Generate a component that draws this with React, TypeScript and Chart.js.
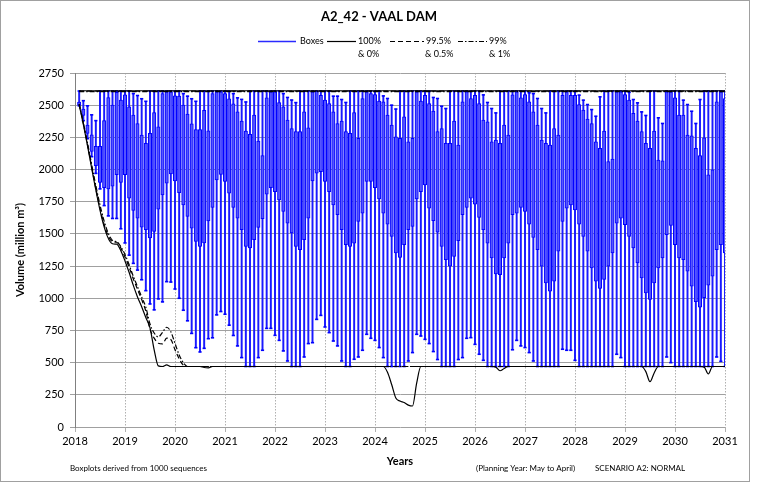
import React, { useEffect, useRef } from 'react';
import { Chart, registerables } from 'chart.js';

Chart.register(...registerables);

const TITLE = 'A2_42 - VAAL DAM';
const Y_TITLE = 'Volume (million m³)';
const X_TITLE = 'Years';
const NOTE_LEFT = 'Boxplots derived from 1000 sequences';
const NOTE_MID = '(Planning Year: May to April)';
const NOTE_RIGHT = 'SCENARIO A2: NORMAL';

const START_YEAR = 2018;
const END_YEAR = 2031;
const Y_MAX = 2750;
const Y_STEP = 250;

// Monthly boxplot statistics, May 2018 .. April 2031 (156 months)
const LOW_WHISKER = [
  2495, 2380, 2240, 2100, 1970, 1850, 1720, 1640, 1620, 1620, 1540, 1430,
  1335, 1271, 1219, 1144, 1059, 956, 910, 995, 972, 1129, 1126, 1072,
  1000, 907, 825, 727, 616, 583, 611, 686, 693, 871, 897, 876,
  791, 711, 630, 539, 470, 470, 470, 539, 596, 766, 766, 712,
  673, 591, 513, 470, 470, 470, 544, 648, 655, 836, 867, 777,
  733, 668, 630, 513, 470, 470, 526, 544, 596, 720, 689, 673,
  617, 539, 470, 470, 470, 470, 470, 513, 578, 720, 707, 681,
  648, 586, 524, 470, 470, 470, 470, 524, 539, 689, 694, 642,
  565, 518, 470, 470, 470, 470, 470, 470, 600, 673, 630, 617,
  578, 513, 470, 470, 470, 470, 470, 470, 604, 596, 596, 518,
  470, 470, 470, 470, 470, 470, 470, 470, 470, 565, 539, 470,
  470, 470, 470, 470, 470, 470, 470, 470, 470, 544, 500, 470,
  470, 470, 470, 470, 470, 470, 470, 470, 470, 544, 510, 470,
];

const BOX_LOW = [
  2502, 2420, 2280, 2140, 2030, 1900, 1860, 1850, 1870, 1960, 1900, 1960,
  1778, 1682, 1623, 1553, 1532, 1468, 1520, 1692, 1803, 1894, 1966, 1912,
  1821, 1726, 1636, 1545, 1442, 1403, 1430, 1600, 1705, 1920, 1963, 1907,
  1816, 1705, 1623, 1532, 1403, 1391, 1455, 1551, 1618, 1809, 1860, 1829,
  1765, 1674, 1584, 1507, 1403, 1378, 1455, 1623, 1912, 1971, 1984, 1907,
  1829, 1726, 1649, 1532, 1416, 1403, 1429, 1597, 1662, 1907, 1907, 1860,
  1772, 1662, 1576, 1481, 1352, 1318, 1416, 1532, 1558, 1772, 1829, 1881,
  1700, 1602, 1514, 1403, 1300, 1249, 1326, 1447, 1649, 1705, 1778, 1731,
  1628, 1532, 1429, 1313, 1189, 1184, 1313, 1429, 1649, 1662, 1705, 1674,
  1576, 1473, 1378, 1249, 1120, 1055, 1133, 1365, 1597, 1700, 1726, 1687,
  1576, 1481, 1365, 1236, 1133, 1076, 1146, 1249, 1352, 1584, 1623, 1571,
  1481, 1391, 1275, 1158, 1042, 991, 1120, 1236, 1313, 1494, 1566, 1416,
  1313, 1300, 1210, 1094, 973, 931, 1004, 1102, 1171, 1378, 1416, 1352,
];

const BOX_HIGH = [
  2525, 2470, 2345, 2270, 2180, 2180, 2380, 2560, 2500, 2600, 2540, 2580,
  2487, 2423, 2358, 2268, 2203, 2281, 2443, 2332, 2590, 2603, 2603, 2572,
  2570, 2500, 2430, 2355, 2310, 2310, 2460, 2300, 2590, 2603, 2603, 2590,
  2550, 2510, 2448, 2376, 2299, 2273, 2423, 2221, 2108, 2557, 2603, 2603,
  2521, 2487, 2384, 2319, 2294, 2294, 2448, 2325, 2603, 2608, 2577, 2539,
  2513, 2448, 2358, 2376, 2294, 2281, 2443, 2242, 2552, 2603, 2590, 2583,
  2531, 2526, 2423, 2345, 2255, 2242, 2410, 2216, 2242, 2603, 2531, 2577,
  2513, 2454, 2294, 2319, 2203, 2203, 2376, 2190, 2526, 2603, 2552, 2577,
  2513, 2384, 2371, 2216, 2229, 2203, 2345, 2268, 2580, 2603, 2557, 2583,
  2526, 2448, 2345, 2229, 2203, 2190, 2319, 2268, 2577, 2603, 2577, 2577,
  2505, 2461, 2392, 2358, 2216, 2165, 2299, 2061, 2082, 2603, 2603, 2583,
  2539, 2436, 2376, 2294, 2203, 2165, 2299, 2074, 2067, 2603, 2603, 2557,
  2423, 2423, 2268, 2262, 2165, 2108, 2247, 1958, 1997, 2526, 2603, 2552,
];

const HIGH_WHISKER = [
  2610, 2535, 2495, 2425, 2380, 2610, 2610, 2610, 2610, 2610, 2610, 2610,
  2610, 2590, 2575, 2550, 2530, 2610, 2610, 2610, 2610, 2610, 2610, 2610,
  2610, 2590, 2570, 2550, 2530, 2610, 2610, 2610, 2610, 2610, 2610, 2610,
  2610, 2590, 2557, 2545, 2525, 2610, 2610, 2610, 2610, 2610, 2610, 2610,
  2610, 2590, 2560, 2540, 2520, 2610, 2610, 2610, 2610, 2610, 2610, 2610,
  2610, 2570, 2570, 2544, 2521, 2610, 2610, 2610, 2610, 2610, 2610, 2610,
  2610, 2572, 2552, 2500, 2470, 2610, 2610, 2610, 2610, 2610, 2610, 2610,
  2610, 2560, 2552, 2492, 2474, 2610, 2610, 2610, 2610, 2610, 2610, 2610,
  2610, 2580, 2521, 2474, 2440, 2610, 2610, 2610, 2610, 2610, 2610, 2610,
  2596, 2590, 2552, 2474, 2440, 2610, 2610, 2610, 2610, 2610, 2610, 2610,
  2578, 2539, 2505, 2466, 2414, 2565, 2610, 2610, 2610, 2610, 2610, 2610,
  2600, 2544, 2518, 2448, 2420, 2610, 2610, 2402, 2358, 2610, 2610, 2610,
  2610, 2539, 2505, 2453, 2358, 2544, 2610, 2610, 2610, 2610, 2610, 2610,
];

// Percentile envelope lines: [month index, volume]
const P100_MONTH = [0, 155];
const P100_VALUE = [2612, 2612];
const P995_MONTH = [0, 155];
const P995_VALUE = [2609, 2609];
const P99_MONTH = [0, 155];
const P99_VALUE = [2606, 2606];

const P0_MONTH = [0, 8, 9, 10, 11, 12, 13, 14, 15, 16, 17, 18, 19, 20, 21, 22, 29, 30, 31, 32, 73, 74, 75, 76, 77, 78, 79, 80, 81, 82, 99, 100, 101, 102, 103, 135, 136, 137, 138, 139, 149, 150, 151, 152, 155];
const P0_VALUE = [2500, 1424, 1420, 1370, 1290, 1200, 1100, 1010, 934, 850, 770, 600, 475, 470, 482, 470, 470, 462, 460, 470, 470, 425, 330, 225, 202, 190, 170, 163, 340, 470, 470, 465, 437, 455, 470, 470, 430, 352, 420, 470, 470, 465, 412, 470, 470];

const P05_MONTH = [0, 8, 9, 10, 11, 12, 13, 14, 15, 16, 17, 18, 19, 20, 21, 22, 23, 24, 25, 26, 155];
const P05_VALUE = [2505, 1440, 1435, 1390, 1320, 1240, 1150, 1070, 990, 900, 760, 690, 650, 645, 690, 680, 600, 530, 480, 470, 470];

const P1_MONTH = [0, 8, 9, 10, 11, 12, 13, 14, 15, 16, 17, 18, 19, 20, 21, 22, 23, 24, 25, 26, 155];
const P1_VALUE = [2510, 1450, 1440, 1400, 1340, 1260, 1170, 1090, 1010, 930, 800, 730, 700, 735, 775, 740, 650, 560, 500, 470, 470];

const monthX = (i: number) => START_YEAR + (i + 1) / 12;

const FONT = 'Lato, "Open Sans", "DejaVu Sans", sans-serif';

const decorPlugin = {
  id: 'decor',
  afterDraw(chart: any) {
    const ctx = chart.ctx as CanvasRenderingContext2D;
    ctx.save();
    // outer frame
    ctx.strokeStyle = '#a0a0a0';
    ctx.lineWidth = 1;
    ctx.strokeRect(0.5, 0.5, 749, 481);

    // title
    ctx.fillStyle = '#000';
    ctx.textAlign = 'center';
    ctx.textBaseline = 'middle';
    ctx.font = `bold 13px ${FONT}`;
    ctx.fillText(TITLE, 379, 17);

    // legend
    ctx.font = `9px ${FONT}`;
    ctx.textAlign = 'left';
    const ly = 41;
    const seg = (x1: number, x2: number, color: string, dash: number[], w: number) => {
      ctx.beginPath();
      ctx.setLineDash(dash);
      ctx.strokeStyle = color;
      ctx.lineWidth = w;
      ctx.moveTo(x1, ly + 0.5);
      ctx.lineTo(x2, ly + 0.5);
      ctx.stroke();
      ctx.setLineDash([]);
    };
    seg(258, 296, '#2a2aff', [], 1.5);
    ctx.fillText('Boxes', 300, ly);
    seg(327, 356, '#000', [], 1.2);
    ctx.fillText('100%', 358, ly);
    ctx.fillText('& 0%', 358, ly + 13);
    seg(390, 424, '#000', [5, 3], 1.2);
    ctx.fillText('99.5%', 426, ly);
    ctx.fillText('& 0.5%', 425, ly + 13);
    seg(458, 487, '#000', [5, 2, 1.5, 2], 1.2);
    ctx.fillText('99%', 489, ly);
    ctx.fillText('& 1%', 489, ly + 13);

    // footnotes
    ctx.font = `8px ${FONT}`;
    ctx.fillText(NOTE_LEFT, 70, 468);
    ctx.fillText(NOTE_MID, 476, 468);
    ctx.fillText(NOTE_RIGHT, 595, 468);
    ctx.restore();
  },
};

export default function App() {
  const canvasRef = useRef<HTMLCanvasElement | null>(null);

  useEffect(() => {
    document.body.style.margin = '0';
    const canvas = canvasRef.current;
    if (!canvas) return;

    const whiskers = LOW_WHISKER.map((lo, i) => ({ x: monthX(i), y: [lo, HIGH_WHISKER[i]] }));
    const boxes = BOX_LOW.map((lo, i) => ({ x: monthX(i), y: [lo, BOX_HIGH[i]] }));
    const lowCaps = LOW_WHISKER.map((v, i) => ({ x: monthX(i), y: v }));
    const highCaps = HIGH_WHISKER.map((v, i) => ({ x: monthX(i), y: v }));
    const line = (months: number[], values: number[]) => months.map((m, k) => ({ x: monthX(m), y: values[k] }));

    const lineDs = (label: string, months: number[], values: number[], dash: number[]) => ({
      type: 'line' as const,
      label,
      data: line(months, values),
      borderColor: '#000',
      borderWidth: 1.2,
      borderDash: dash,
      pointRadius: 0,
      tension: 0.25,
      cubicInterpolationMode: 'monotone' as const,
      order: 0,
    });

    const chart = new Chart(canvas, {
      type: 'bar',
      data: {
        datasets: [
          {
            type: 'bar',
            label: 'whiskers',
            data: whiskers as any,
            backgroundColor: '#1a1aff',
            borderWidth: 0,
            barThickness: 1.3,
            grouped: false,
            order: 4,
          } as any,
          {
            type: 'bar',
            label: 'Boxes',
            data: boxes as any,
            backgroundColor: 'rgba(110,110,255,0.75)',
            borderColor: '#0000ff',
            borderWidth: 1,
            borderSkipped: false,
            barThickness: 3.4,
            grouped: false,
            order: 3,
          } as any,
          {
            type: 'line',
            label: 'lowCaps',
            data: lowCaps as any,
            showLine: false,
            pointStyle: 'line',
            pointRadius: 1.6,
            pointBorderWidth: 1.6,
            pointBorderColor: '#0000ff',
            order: 2,
          } as any,
          {
            type: 'line',
            label: 'highCaps',
            data: highCaps as any,
            showLine: false,
            pointStyle: 'line',
            pointRadius: 1.6,
            pointBorderWidth: 1.6,
            pointBorderColor: '#0000ff',
            order: 2,
          } as any,
          lineDs('100%', P100_MONTH, P100_VALUE, []),
          lineDs('99.5%', P995_MONTH, P995_VALUE, [5, 3]),
          lineDs('99%', P99_MONTH, P99_VALUE, [5, 2, 1.5, 2]),
          lineDs('0%', P0_MONTH, P0_VALUE, []),
          lineDs('0.5%', P05_MONTH, P05_VALUE, [5, 3]),
          lineDs('1%', P1_MONTH, P1_VALUE, [5, 2, 1.5, 2]),
        ] as any,
      },
      options: {
        responsive: false,
        animation: false,
        events: [],
        layout: { padding: { left: 0, right: 33, top: 73, bottom: 0 } },
        plugins: {
          legend: { display: false },
          title: { display: false },
          tooltip: { enabled: false },
        },
        scales: {
          x: {
            type: 'linear',
            min: START_YEAR,
            max: END_YEAR,
            offset: false,
            ticks: {
              stepSize: 1,
              autoSkip: false,
              maxRotation: 0,
              padding: 3,
              color: '#000',
              font: { family: FONT, size: 11 },
              callback: (v: any) => String(v),
            },
            grid: { offset: false, color: '#b0b0b0', tickLength: 5, lineWidth: 1 },
            border: { display: false, dash: [1.5, 1.5] },
            title: {
              display: true,
              text: X_TITLE,
              color: '#000',
              font: { family: FONT, size: 11, weight: 'bold' },
              padding: { top: 0, bottom: 14 },
            },
            afterFit: (s: any) => { s.height = 55; },
          },
          y: {
            type: 'linear',
            min: 0,
            max: Y_MAX,
            ticks: {
              stepSize: Y_STEP,
              padding: 6,
              color: '#000',
              font: { family: FONT, size: 11 },
              callback: (v: any) => String(v),
            },
            grid: { color: '#a0a0a0', tickLength: 5, lineWidth: 1 },
            border: { display: true, color: '#808080' },
            title: {
              display: true,
              text: Y_TITLE,
              color: '#000',
              font: { family: FONT, size: 11, weight: 'bold' },
              padding: { top: 14, bottom: 0 },
            },
            afterFit: (s: any) => { s.width = 75; },
          },
        },
      } as any,
      plugins: [decorPlugin],
    });

    return () => chart.destroy();
  }, []);

  return (
    <div style={{ width: 758, height: 482, background: '#fff' }}>
      <canvas ref={canvasRef} width={758} height={482} style={{ display: 'block' }} />
    </div>
  );
}
